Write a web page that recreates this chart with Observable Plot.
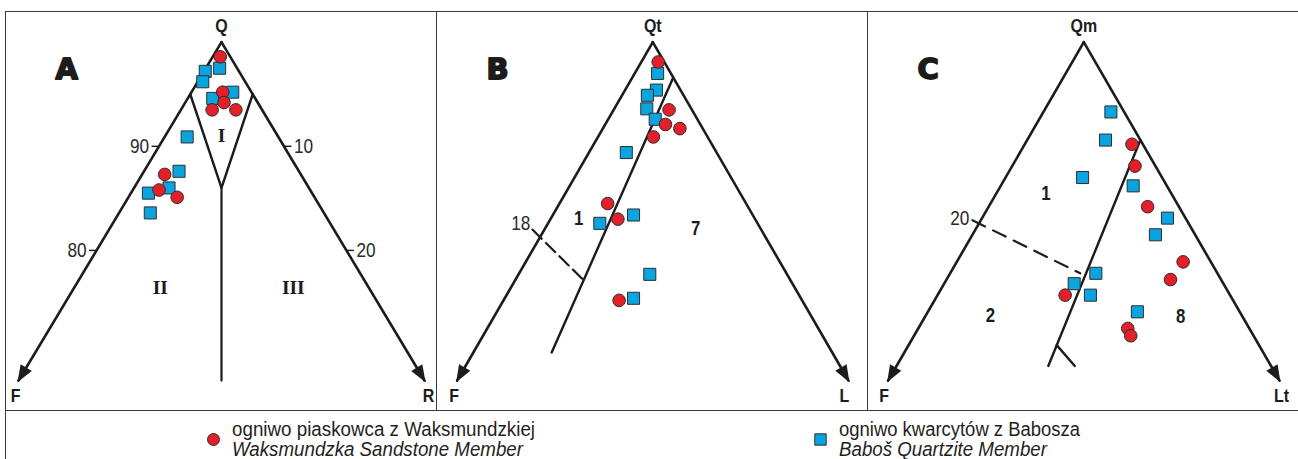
<!DOCTYPE html>
<html><head><meta charset="utf-8">
<script src="https://cdn.jsdelivr.net/npm/d3@7"></script>
<script src="https://cdn.jsdelivr.net/npm/@observablehq/plot@0.6"></script>
<style>
body{margin:0;background:#fff;}
#wrap{position:relative;width:1298px;height:459px;overflow:hidden;background:#fff;}
.frame{position:absolute;background:#3a3a3a;z-index:3;}
.panel{position:absolute;top:11px;z-index:1;}
.leg{position:absolute;font-family:"Liberation Sans",Arial,sans-serif;font-size:20px;line-height:19px;color:#231f20;white-space:nowrap;transform-origin:0 0;}
.leg.it{font-style:italic;}
.sw{position:absolute;}
</style></head><body><div id="wrap"></div>
<script>
// ---------- DATA (ternary values, % : [top apex, left apex, right apex]) ----------
const aVertexLabels = ["Q", "F", "R"];
const bVertexLabels = ["Qt", "F", "L"];
const cVertexLabels = ["Qm", "F", "Lt"];
const panelLetters = ["A", "B", "C"];

const apexPoint = [100, 0, 0];
const leftTip = [67.5, 32.5, 0];
const rightTip = [67.5, 0, 32.5];

// Panel A (QFR)
const aRed = [[98.6,0.8,0.6],[95.2,2.3,2.5],[94.2,2.7,3.1],[93.5,4.0,2.5],[93.5,2.1,4.4],[87.3,10.9,1.8],[85.8,12.1,2.1],[85.1,11.0,3.9]];
const aBlue = [[97.5,1.4,1.1],[97.2,2.7,0.1],[96.2,3.4,0.4],[94.6,3.4,2.0],[95.2,1.5,3.3],[90.9,7.3,1.8],[87.6,9.6,2.8],[86.0,11.2,2.8],[85.5,13.1,1.4],[83.6,13.9,2.5]];
const aFieldI = [[95,5,0],[86,7,7],[95,0,5]];
const aDivider = [[86,7,7],[67.5,16.25,16.25]];
const aFields = ["I", "II", "III"];
const aFieldPos = [[91.0,4.5,4.5],[76.4,16.7,6.9],[76.4,6.0,17.5]];
const aLeftTicks = [[90,10,0],[80,20,0]];
const aLeftTickLabels = ["90", "80"];
const aRightTicks = [[90,0,10],[80,0,20]];
const aRightTickLabels = ["10", "20"];

// Panel B (QtFL)
const bRed = [[98.1,0.5,1.4],[93.5,1.9,4.6],[92.1,2.9,5.0],[91.7,1.9,6.4],[90.9,4.5,4.6],[84.5,11.5,4.0],[83.0,11.4,5.6],[75.2,15.2,9.6]];
const bBlue = [[97.0,1.1,1.9],[95.4,2.0,2.6],[94.9,3.0,2.1],[93.6,3.7,2.7],[92.6,3.5,3.9],[89.4,7.5,3.1],[83.4,9.9,6.7],[82.6,13.1,4.3],[77.7,11.4,10.9],[75.4,13.9,10.7]];
const bDivider = [[96.6,0,3.4],[70.2,23.3,6.5]];
const bDashed = [[82.0,19.0,-1.0],[77.2,17.2,5.6]];
const bDashedLabel = ["18"];
const bFields = ["1", "7"];
const bFieldPos = [[83.1,14.6,2.3],[82.1,5.4,12.5]];

// Panel C (QmFLt)
const cRed = [[90.2,0.9,8.9],[88.1,1.7,10.2],[84.2,2.6,13.2],[78.9,2.3,18.8],[77.2,4.2,18.6],[75.7,13.7,10.6],[72.5,10.1,17.4],[71.8,10.2,18.0]];
const cBlue = [[93.3,1.1,5.6],[90.6,2.9,6.5],[87.0,6.6,6.4],[86.2,2.8,11.0],[83.1,1.5,15.4],[81.5,3.3,15.2],[77.8,10.1,12.1],[76.8,12.4,10.8],[75.7,11.6,12.7],[74.1,8.5,17.4]];
const cDivider = [[90.6,0,9.4],[68.9,18.5,12.6]];
const cFork = [[70.9,16.8,12.3],[68.9,16.3,14.8]];
const cDashed = [[82.9,17.8,-0.7],[77.8,11.4,10.8]];
const cDashedLabel = ["20"];
const cFields = ["1", "2", "8"];
const cFieldPos = [[85.5,10.4,4.1],[73.7,20.9,5.4],[73.6,5.2,21.3]];

const legendLabels = [
  ["ogniwo piaskowca z Waksmundzkiej", "Waksmundzka Sandstone Member"],
  ["ogniwo kwarcytów z Babosza", "Baboš Quartzite Member"]
];

// ---------- STYLE / LAYOUT ----------
const RED = "#e3202a", BLUE = "#0aa4e0", INK = "#1d1b1c", MSTROKE = "#2e2e2e";
const SANS = '"Liberation Sans",Arial,sans-serif';
const NARROW_FACTOR = 0.84;
const W = 431, H = 399, TOP = 11, SY = 10.41;

const X = d => d[2] - d[1];
const Y = d => d[0];

function arrowSymbol(angleDeg) {
  const a = angleDeg * Math.PI / 180, c = Math.cos(a), s = Math.sin(a);
  const pts = [[0,-2],[-6.5,15],[6.5,15]].map(([x,y]) => [x*c - y*s, x*s + y*c]);
  return {draw(ctx) { ctx.moveTo(...pts[0]); ctx.lineTo(...pts[1]); ctx.lineTo(...pts[2]); ctx.closePath(); }};
}
function tickSymbol(len) {
  return {draw(ctx) { ctx.moveTo(0, 0); ctx.lineTo(len, 0); }};
}

function txt(data, labels, o) {
  return Plot.text(data, Object.assign({x: X, y: Y, text: (d, i) => labels[i], fill: INK, fontFamily: SANS, fontSize: 19, fontWeight: "bold"}, o));
}

function panel(cfg) {
  const k = cfg.k;
  const xd = [(cfg.left - cfg.ax) / k, (cfg.left + W - cfg.ax) / k];
  const yd = [100 - (TOP - cfg.ay) / SY, 100 - (TOP + H - cfg.ay) / SY];
  const ang = tip => {
    const dx = k * (X(tip) - X(apexPoint)), dy = SY * (Y(apexPoint) - Y(tip));
    return Math.atan2(dx, -dy) * 180 / Math.PI;
  };
  const edge = {x: X, y: Y, stroke: INK, strokeWidth: 2.6};
  const marks = [
    Plot.line([apexPoint, leftTip], edge),
    Plot.line([apexPoint, rightTip], edge),
    Plot.dot([leftTip], {x: X, y: Y, symbol: arrowSymbol(ang(leftTip)), r: 5, fill: INK, stroke: "none"}),
    Plot.dot([rightTip], {x: X, y: Y, symbol: arrowSymbol(ang(rightTip)), r: 5, fill: INK, stroke: "none"}),
    ...cfg.extra,
    txt([apexPoint], [cfg.vertex[0]], {dy: -16}),
    txt([leftTip], [cfg.vertex[1]], {dx: cfg.ldx, dy: 15}),
    txt([rightTip], [cfg.vertex[2]], {dx: cfg.rdx, dy: 15}),
    Plot.text([cfg.letter], {frameAnchor: "top-left", dx: 50, dy: 47, text: d => d, fontFamily: '"DejaVu Sans",sans-serif', fontWeight: "bold", fontSize: 29, fill: INK, stroke: INK, strokeWidth: 1.8}),
    Plot.dot(cfg.blue, {x: X, y: Y, symbol: "square", r: 6.8, fill: BLUE, stroke: MSTROKE, strokeWidth: 1}),
    Plot.dot(cfg.red, {x: X, y: Y, symbol: "circle", r: 6.3, fill: RED, stroke: MSTROKE, strokeWidth: 1})
  ];
  return Plot.plot({
    width: W, height: H, margin: 0,
    x: {type: "linear", domain: xd, range: [0, W], axis: null},
    y: {type: "linear", domain: yd, range: [0, H], axis: null},
    style: {background: "transparent", overflow: "visible"},
    marks
  });
}

const inner = {x: X, y: Y, stroke: INK, strokeWidth: 2.4};
const tickStyle = {x: X, y: Y, r: 4, fill: "none", stroke: INK, strokeWidth: 1.4};
const thin = {fontWeight: "normal", fontSize: 20.5, fill: "#2a2a2a"};

const cfgs = [
  {left: 5, ax: 221, ay: 41.7, k: 6.246, vertex: aVertexLabels, letter: panelLetters[0], red: aRed, blue: aBlue, ldx: -3, rdx: 4,
   extra: [
     Plot.line(aFieldI, inner),
     Plot.line(aDivider, Object.assign({}, inner, {strokeWidth: 2.2})),
     Plot.dot(aLeftTicks, Object.assign({symbol: tickSymbol(-7.5)}, tickStyle)),
     Plot.dot(aRightTicks, Object.assign({symbol: tickSymbol(7.5)}, tickStyle)),
     txt(aLeftTicks, aLeftTickLabels, Object.assign({dx: -10, textAnchor: "end"}, thin)),
     txt(aRightTicks, aRightTickLabels, Object.assign({dx: 10, textAnchor: "start"}, thin)),
     txt(aFieldPos, aFields, {fontFamily: '"Liberation Serif","DejaVu Serif",serif', fontSize: 19.5})
   ]},
  {left: 436, ax: 652.3, ay: 41.7, k: 6.02, vertex: bVertexLabels, letter: panelLetters[1], red: bRed, blue: bBlue, ldx: -3, rdx: -4,
   extra: [
     Plot.line(bDivider, inner),
     Plot.line(bDashed, Object.assign({}, inner, {strokeWidth: 2.2, strokeDasharray: "13,6"})),
     txt([bDashed[0]], bDashedLabel, Object.assign({dx: -2, dy: -6, textAnchor: "end"}, thin)),
     txt(bFieldPos, bFields, {fontSize: 20})
   ]},
  {left: 867, ax: 1083.3, ay: 41.7, k: 6.02, vertex: cVertexLabels, letter: panelLetters[2], red: cRed, blue: cBlue, ldx: -4, rdx: 2,
   extra: [
     Plot.line(cDivider, inner),
     Plot.line(cFork, inner),
     Plot.line(cDashed, Object.assign({}, inner, {strokeWidth: 2.2, strokeDasharray: "14,9"})),
     txt([cDashed[0]], cDashedLabel, Object.assign({dx: -3, dy: -2, textAnchor: "end"}, thin)),
     txt(cFieldPos, cFields, {fontSize: 20})
   ]}
];

const wrap = document.getElementById("wrap");
cfgs.forEach(cfg => {
  const el = panel(cfg);
  el.classList.add("panel");
  el.style.left = cfg.left + "px";
  el.style.position = "absolute";
  el.style.top = TOP + "px";
  wrap.appendChild(el);
  // emulate a condensed sans face by compressing glyph widths
  el.querySelectorAll('g[aria-label="text"]').forEach(g => {
    if (!(g.getAttribute("font-family") || "").startsWith('"Liberation Sans"')) return;
    g.querySelectorAll("text").forEach(t => {
      const len = t.getComputedTextLength();
      if (len > 0) {
        t.setAttribute("textLength", (len * NARROW_FACTOR).toFixed(2));
        t.setAttribute("lengthAdjust", "spacingAndGlyphs");
      }
    });
  });
});

// frame lines
function frame(l, t, w, h) {
  const d = document.createElement("div");
  d.className = "frame";
  Object.assign(d.style, {left: l + "px", top: t + "px", width: w + "px", height: h + "px"});
  wrap.appendChild(d);
}
frame(5, 11, 1293, 1);
frame(5, 11, 1, 448);
frame(436, 11, 1, 399);
frame(867, 11, 1, 399);
frame(5, 410, 1293, 1);

// legend
function swatch(symbol, fill, cx, cy, r) {
  const s = Plot.plot({width: 20, height: 20, margin: 0, x: {axis: null}, y: {axis: null},
    style: {background: "transparent", overflow: "visible"},
    marks: [Plot.dot([0], {frameAnchor: "middle", symbol, r, fill, stroke: MSTROKE, strokeWidth: 1})]});
  s.classList.add("sw");
  s.style.position = "absolute";
  s.style.left = (cx - 10) + "px";
  s.style.top = (cy - 10) + "px";
  wrap.appendChild(s);
}
swatch("circle", RED, 213.3, 439.3, 6);
swatch("square", BLUE, 820, 439.3, 6.4);

function legLine(text, left, top, italic, targetWidth) {
  const d = document.createElement("div");
  d.className = "leg" + (italic ? " it" : "");
  d.style.left = left + "px";
  d.style.top = top + "px";
  d.textContent = text;
  wrap.appendChild(d);
  const w = d.getBoundingClientRect().width;
  if (w > 0) d.style.transform = "scaleX(" + (targetWidth / w).toFixed(4) + ")";
}
legLine(legendLabels[0][0], 232, 420, false, 303);
legLine(legendLabels[0][1], 232, 440, true, 291);
legLine(legendLabels[1][0], 839, 420, false, 241);
legLine(legendLabels[1][1], 839, 440, true, 208);
</script></body></html>
